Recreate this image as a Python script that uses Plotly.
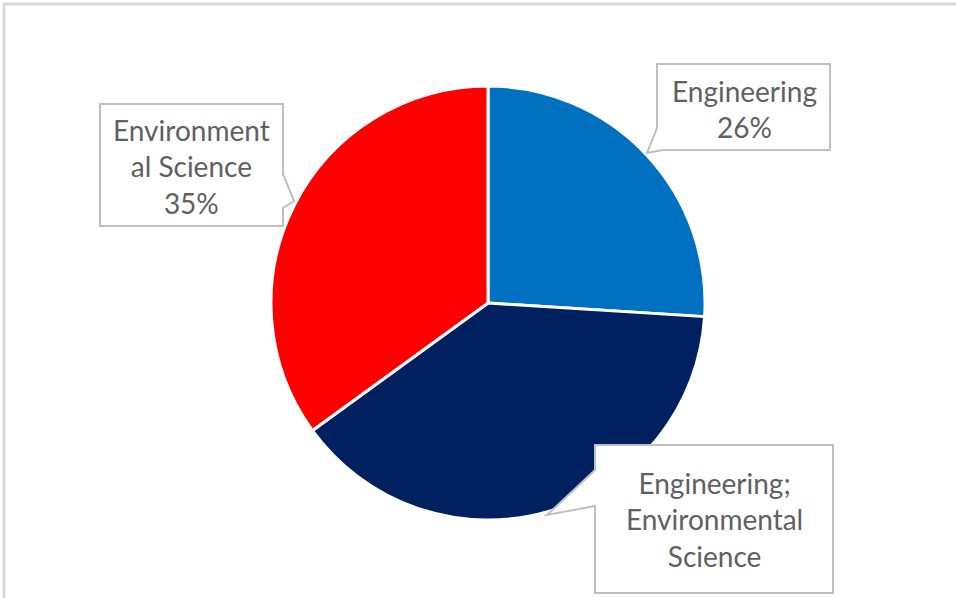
import plotly.graph_objects as go

# ---- data ----
categories = ["Engineering", "Engineering; Environmental Science", "Environmental Science"]
values = [26, 39, 35]
label_lines = [["Engineering"], ["Engineering;", "Environmental", "Science"], ["Environment", "al Science"]]
show_pct = [True, False, True]
colors = ["#0070C0", "#002060", "#FF0000"]

W, H = 956, 598

def px(x):
    return x / W

def py(y):
    return 1 - y / H

fig = go.Figure()
fig.add_trace(go.Pie(
    labels=categories,
    values=values,
    sort=False,
    direction="clockwise",
    rotation=0,
    marker=dict(colors=colors, line=dict(color="white", width=3)),
    textinfo="none",
    hoverinfo="label+percent",
    showlegend=False,
    domain=dict(x=[px(271), px(705)], y=[py(520), py(86)]),
))

# callout boxes (box + tail polygons in pixel coords)
callouts = [
    dict(box=(657, 64, 830, 150), tail=[(657, 128), (647, 153), (663, 150)], side="left-bottom", center=(744, 109)),
    dict(box=(595, 445, 833, 593), tail=[(595, 470), (547, 515), (595, 506)], side="left", center=(714, 519)),
    dict(box=(100, 104, 283, 226), tail=[(283, 174), (294, 201), (283, 208)], side="right", center=(191, 167)),
]

def box_path(c):
    x0, y0, x1, y1 = c["box"]
    a, t, b = c["tail"]
    if c["side"] == "left":
        pts = [(x0, y0), (x1, y0), (x1, y1), (x0, y1), b, t, a]
    elif c["side"] == "right":
        pts = [(x0, y0), (x1, y0), a, t, b, (x1, y1), (x0, y1)]
    else:  # left-bottom corner tail
        pts = [(x0, y0), (x1, y0), (x1, y1), b, t, a]
    return "M " + " L ".join(f"{px(x):.5f},{py(y):.5f}" for x, y in pts) + " Z"

total = sum(values)
for i, c in enumerate(callouts):
    fig.add_shape(type="path", xref="paper", yref="paper", path=box_path(c),
                  fillcolor="white", line=dict(color="#BFBFBF", width=2), layer="above")
    lines = list(label_lines[i])
    if show_pct[i]:
        lines.append(f"{round(values[i] / total * 100)}%")
    fig.add_annotation(x=px(c["center"][0]), y=py(c["center"][1]), xref="paper", yref="paper",
                       text="<br>".join(lines), showarrow=False, xanchor="center", yanchor="middle",
                       align="center", font=dict(family="Lato", size=28, color="#606060"))

# chart area border
fig.add_shape(type="rect", xref="paper", yref="paper", x0=px(4), y0=py(4), x1=1.02, y1=-0.02,
              line=dict(color="#D9D9D9", width=3), fillcolor="rgba(0,0,0,0)", layer="below")

fig.update_layout(
    width=W, height=H,
    margin=dict(l=0, r=0, t=0, b=0),
    paper_bgcolor="white",
    plot_bgcolor="white",
)

fig.write_html("out.html", config={"displayModeBar": False})

# remove default page margin so the figure fills the window exactly
with open("out.html", "r", encoding="utf-8") as f:
    html = f.read()
html = html.replace("<head>", "<head><style>html,body{margin:0;padding:0;overflow:hidden;}</style>", 1)
with open("out.html", "w", encoding="utf-8") as f:
    f.write(html)
